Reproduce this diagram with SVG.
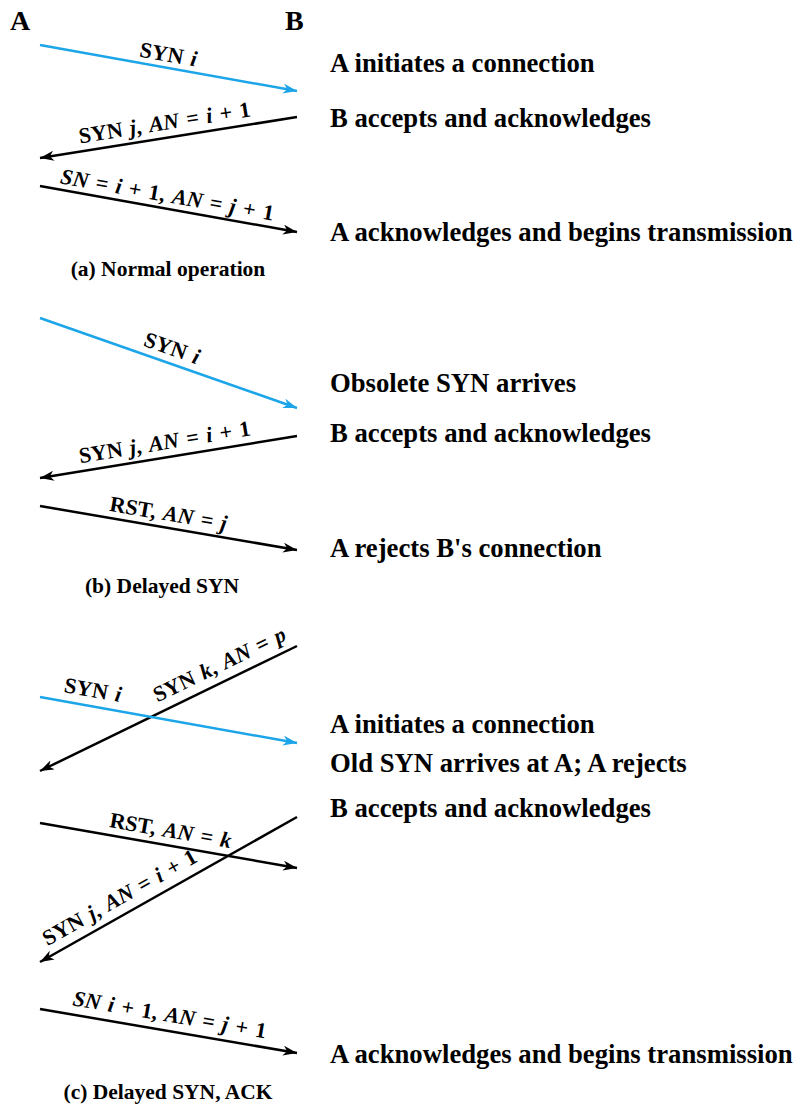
<svg xmlns="http://www.w3.org/2000/svg" width="796" height="1105" viewBox="0 0 796 1105" font-family="'Liberation Serif', 'Times New Roman', 'DejaVu Serif', serif">
<defs>
<style>
text{font-family:'Liberation Serif','Times New Roman','DejaVu Serif',serif;font-weight:700;fill:#000}
.big{font-size:28px}
.desc{font-size:26.7px}
.lbl{font-size:22px;text-anchor:middle;word-spacing:2px}
.cap{font-size:21.5px;text-anchor:middle}
.i{font-style:italic}
.k{stroke:#000;stroke-width:2.5;fill:none;marker-end:url(#ak)}
.b{stroke:#1ca5e8;stroke-width:2.5;fill:none;marker-end:url(#ab)}
</style>
<marker id="ak" markerUnits="userSpaceOnUse" markerWidth="16" markerHeight="12" refX="14" refY="5" orient="auto"><path d="M0,0 L14,5 L0,10 L4,5 Z" fill="#000"/></marker>
<marker id="ab" markerUnits="userSpaceOnUse" markerWidth="16" markerHeight="12" refX="14" refY="5" orient="auto"><path d="M0,0 L14,5 L0,10 L4,5 Z" fill="#1ca5e8"/></marker>
</defs>
<rect width="796" height="1105" fill="#fff"/>
<g id="nodeA"><text class="big" x="10" y="30">A</text></g>
<g id="nodeB"><text class="big" x="285" y="30">B</text></g>

<g id="connectors">
<line class="b" x1="40" y1="45" x2="297" y2="91"/>
<line class="k" x1="297" y1="117" x2="40" y2="158"/>
<line class="k" x1="40" y1="186" x2="297" y2="232"/>

<line class="b" x1="40" y1="318" x2="297" y2="408"/>
<line class="k" x1="297" y1="436" x2="40" y2="478"/>
<line class="k" x1="40" y1="506" x2="297" y2="550"/>

<line class="k" x1="297" y1="646" x2="40" y2="771"/>
<line class="b" x1="40" y1="697" x2="297" y2="743"/>
<line class="k" x1="297" y1="817" x2="40" y2="962"/>
<line class="k" x1="40" y1="823" x2="297" y2="868"/>
<line class="k" x1="40" y1="1009" x2="297" y2="1053"/>
</g>

<g id="labels">
<text class="lbl" transform="translate(166,67.5) rotate(10.15)" y="-6">SYN <tspan class="i">i</tspan></text>
<text class="lbl" transform="translate(167,137.7) rotate(-9.06)" y="-8">SYN <tspan class="i">j</tspan>, <tspan class="i">AN</tspan> = <tspan class="i">i</tspan> + 1</text>
<text class="lbl" transform="translate(165,207.9) rotate(9.93)" y="-6"><tspan class="i">SN</tspan> = <tspan class="i">i</tspan> + 1, <tspan class="i">AN</tspan> = <tspan class="i">j</tspan> + 1</text>

<text class="lbl" transform="translate(167,362.5) rotate(19.3)" y="-8">SYN <tspan class="i">i</tspan></text>
<text class="lbl" transform="translate(167,457.2) rotate(-9.28)" y="-8">SYN <tspan class="i">j</tspan>, <tspan class="i">AN</tspan> = <tspan class="i">i</tspan> + 1</text>
<text class="lbl" transform="translate(166,527.6) rotate(9.71)" y="-7">RST, <tspan class="i">AN</tspan> = <tspan class="i">j</tspan></text>

<text class="lbl" transform="translate(90,706) rotate(10.1)" y="-9">SYN <tspan class="i">i</tspan></text>
<text class="lbl" transform="translate(227,680) rotate(-25.9)" y="-10">SYN <tspan class="i">k</tspan>, <tspan class="i">AN</tspan> = <tspan class="i">p</tspan></text>
<text class="lbl" transform="translate(168,845.4) rotate(9.93)" y="-8">RST, <tspan class="i">AN</tspan> = <tspan class="i">k</tspan></text>
<text class="lbl" transform="translate(128,912.4) rotate(-29.43)" y="-10">SYN <tspan class="i">j</tspan>, <tspan class="i">AN</tspan> = <tspan class="i">i</tspan> + 1</text>
<text class="lbl" transform="translate(167,1030.7) rotate(9.72)" y="-9"><tspan class="i">SN i</tspan> + 1, <tspan class="i">AN</tspan> = <tspan class="i">j</tspan> + 1</text>
</g>

<g id="descriptions">
<text class="desc" x="330" y="72">A initiates a connection</text>
<text class="desc" x="330" y="127">B accepts and acknowledges</text>
<text class="desc" x="330" y="241">A acknowledges and begins transmission</text>
<text class="desc" x="330" y="392">Obsolete SYN arrives</text>
<text class="desc" x="330" y="442">B accepts and acknowledges</text>
<text class="desc" x="330" y="557">A rejects B's connection</text>
<text class="desc" x="330" y="733">A initiates a connection</text>
<text class="desc" x="330" y="772">Old SYN arrives at A; A rejects</text>
<text class="desc" x="330" y="817">B accepts and acknowledges</text>
<text class="desc" x="330" y="1063">A acknowledges and begins transmission</text>
</g>

<g id="captions">
<text class="cap" x="168" y="276">(a) Normal operation</text>
<text class="cap" x="162" y="593">(b) Delayed SYN</text>
<text class="cap" x="168" y="1099">(c) Delayed SYN, ACK</text>
</g>
</svg>
